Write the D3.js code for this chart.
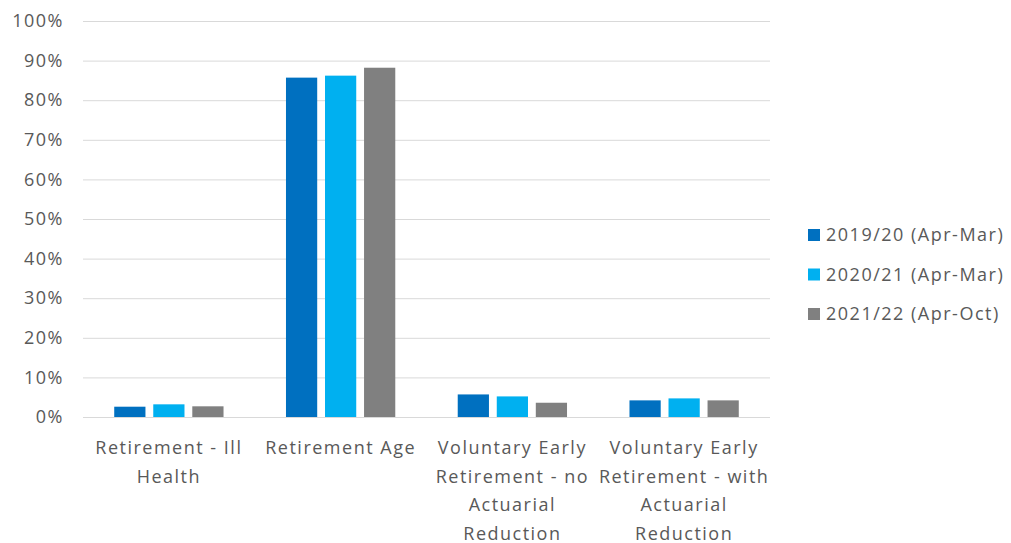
<!DOCTYPE html>
<html>
<head>
<meta charset="utf-8">
<script src="https://cdn.jsdelivr.net/npm/d3@7"></script>
<style>
  body { margin: 0; background: #fff; }
  text { font-family: "Open Sans", "Noto Sans", sans-serif; fill: #595959; letter-spacing: 1.5px; }
</style>
</head>
<body>
<div id="chart"></div>
<script>

var categories = ["Retirement - Ill Health", "Retirement Age", "Voluntary Early Retirement - no Actuarial Reduction", "Voluntary Early Retirement - with Actuarial Reduction"];
var labelLines = [
  ["Retirement - Ill", "Health"],
  ["Retirement Age"],
  ["Voluntary Early", "Retirement - no", "Actuarial", "Reduction"],
  ["Voluntary Early", "Retirement - with", "Actuarial", "Reduction"]
];
var seriesNames = ["2019/20 (Apr-Mar)", "2020/21 (Apr-Mar)", "2021/22 (Apr-Oct)"];
var seriesColors = ["#0070C0", "#00B0F0", "#808080"];
var values2019 = [0.026, 0.857, 0.057, 0.042];
var values2020 = [0.032, 0.862, 0.052, 0.047];
var values2021 = [0.027, 0.882, 0.036, 0.042];
var yTicks = [0, 0.1, 0.2, 0.3, 0.4, 0.5, 0.6, 0.7, 0.8, 0.9, 1.0];

var allSeries = [values2019, values2020, values2021];

function createChart() {
  var width = 1011;
  var height = 543;
  var left = 83, right = 770, top = 21, bottom = 417;

  var svg = d3.select("#chart").append("svg")
    .attr("width", width)
    .attr("height", height);

  var xScale = d3.scaleBand()
    .domain(categories)
    .range([left, right]);

  var inner = d3.scaleBand()
    .domain(seriesNames)
    .range([0, xScale.bandwidth()])
    .paddingOuter(0.8)
    .paddingInner(0.2);

  var yScale = d3.scaleLinear()
    .domain([0, 1])
    .range([bottom, top]);

  var yaxis = svg.append("g")
    .attr("transform", "translate(" + left + ",0)")
    .call(d3.axisLeft(yScale)
      .tickValues(yTicks)
      .tickSize(-(right - left))
      .tickPadding(19)
      .tickFormat(d3.format(".0%")));
  yaxis.select(".domain").remove();
  yaxis.selectAll("line").attr("stroke", "#d9d9d9").attr("stroke-width", 1);
  yaxis.selectAll("text")
    .style("font-size", "18px")
    .style("font-family", null)
    .attr("font-family", null)
    .attr("fill", "#595959");

  // bars
  var groups = svg.selectAll("g.cat")
    .data(categories)
    .enter()
    .append("g")
    .attr("class", "cat")
    .attr("transform", function(d) { return "translate(" + xScale(d) + ",0)"; });

  groups.selectAll("rect")
    .data(function(d, i) {
      return allSeries.map(function(s, j) { return { name: seriesNames[j], value: s[i], color: seriesColors[j] }; });
    })
    .enter()
    .append("rect")
    .attr("x", function(d) { return inner(d.name); })
    .attr("width", inner.bandwidth())
    .attr("y", function(d) { return yScale(d.value); })
    .attr("height", function(d) { return yScale(0) - yScale(d.value); })
    .attr("fill", function(d) { return d.color; });

  // category labels
  var labels = svg.selectAll("text.cat-label")
    .data(categories)
    .enter()
    .append("text")
    .attr("class", "cat-label")
    .attr("text-anchor", "middle")
    .style("font-size", "18px")
    .attr("x", function(d) { return xScale(d) + xScale.bandwidth() / 2; })
    .attr("y", 454);

  labels.selectAll("tspan")
    .data(function(d, i) { return labelLines[i]; })
    .enter()
    .append("tspan")
    .attr("x", function() { return d3.select(this.parentNode).attr("x"); })
    .attr("dy", function(d, i) { return i === 0 ? 0 : 28.5; })
    .text(function(d) { return d; });

  // legend
  var legend = svg.selectAll("g.legend")
    .data(seriesNames)
    .enter()
    .append("g")
    .attr("class", "legend")
    .attr("transform", function(d, i) { return "translate(808," + (229 + i * 39.5) + ")"; });

  legend.append("rect")
    .attr("width", 12)
    .attr("height", 12)
    .attr("fill", function(d, i) { return seriesColors[i]; });

  legend.append("text")
    .attr("x", 18)
    .attr("y", 12)
    .style("font-size", "18px")
    .text(function(d) { return d; });
}

createChart();
</script>
</body>
</html>
